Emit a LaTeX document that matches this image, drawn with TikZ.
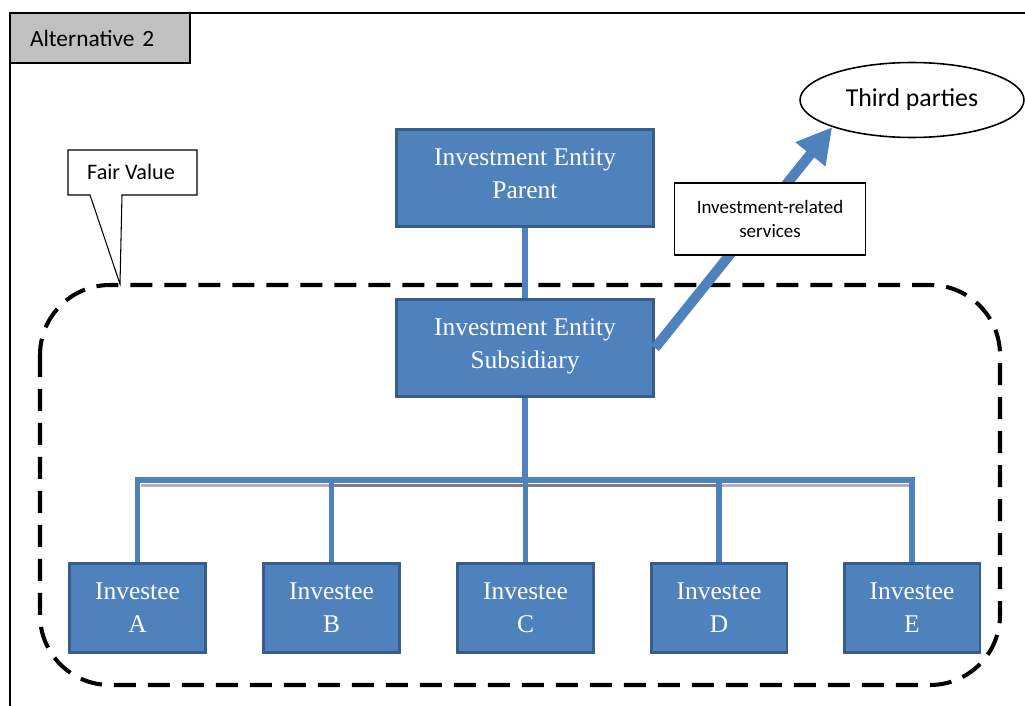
\documentclass[tikz,border=0pt]{standalone}
\usepackage{fontspec}
\setmainfont{Liberation Serif}
\newfontfamily\labelfont{Carlito}
\usetikzlibrary{arrows.meta,shapes.geometric,calc}
\definecolor{boxblue}{HTML}{4F81BD}
\definecolor{boxedge}{HTML}{385D8A}
\definecolor{tabgray}{HTML}{C0C0C0}
\begin{document}
\begin{tikzpicture}[x=0.02cm,y=-0.02cm,
  entity/.style={draw=boxedge,fill=boxblue,line width=1.7pt,text=white,align=center,font=\fontsize{14.5}{18.7}\selectfont},
  link/.style={boxblue,line width=3.4pt},
  note/.style={draw,fill=white,line width=0.6pt,align=center,font=\labelfont\fontsize{10.8}{14}\selectfont}]
\useasboundingbox (0,0) rectangle (1025,706);
% frame and tab
\draw[line width=1.1pt](10,706)--(10,13)--(1025,13);
\node[draw,fill=tabgray,line width=1.1pt,inner xsep=0.4cm,text width=2.8cm,align=left,minimum height=1cm,font=\labelfont\fontsize{13.3}{16}\selectfont](alt) at (100,38){Alternative 2};
% group of fair value entities
\draw[line width=2.3pt,dash pattern=on 0.44cm off 0.24cm,rounded corners=1.4cm](40,285) rectangle (1000,685);
\draw[fill=white,line width=0.6pt](68,150)--(197,150)--(197,195)--(122,195)--(120,284)--(90,195)--(68,195)--cycle;
\node[font=\labelfont\fontsize{12.6}{15}\selectfont](fv) at (131,172){Fair Value};
% entities
\node[entity,text depth=5pt,minimum width=5.14cm,minimum height=1.94cm](parent) at (525,178){Investment Entity\\Parent};
\node[entity,text depth=5pt,minimum width=5.14cm,minimum height=1.94cm](sub) at (525,348){Investment Entity\\Subsidiary};
\foreach \n/\x in {A/137.5,B/331.5,C/525.5,D/719,E/912}
  \node[entity,minimum width=2.72cm,minimum height=1.78cm](inv\n) at (\x,608){Investee\\\n};
\node[ellipse,draw,fill=white,line width=0.9pt,inner sep=0pt,minimum width=4.48cm,minimum height=1.5cm,font=\labelfont\fontsize{14.7}{17}\selectfont](third) at (912,100){Third parties};
% connectors
\coordinate(bus) at (525,480);
\draw[link](parent)--(sub);
\draw[gray!60,line width=1.7pt]($(invA.north |- bus)+(3,5.5)$)--($(invE.north |- bus)+(-3,5.5)$);
\draw[gray,line width=1.7pt]($(invB.north |- bus)+(0,5.5)$)--($(invD.north |- bus)+(0,5.5)$);
\draw[link](sub)--(bus);
\foreach \n in {A,B,C,D,E}
  \draw[link](bus)-|(inv\n.north);
\draw[boxblue,line width=5.7pt,-{Triangle[length=0.7cm,width=0.72cm]}](sub.east)--(third.south west);
\node[note,minimum width=3.82cm,minimum height=1.44cm](svc) at (770,219){Investment-related\\services};
\end{tikzpicture}
\end{document}
